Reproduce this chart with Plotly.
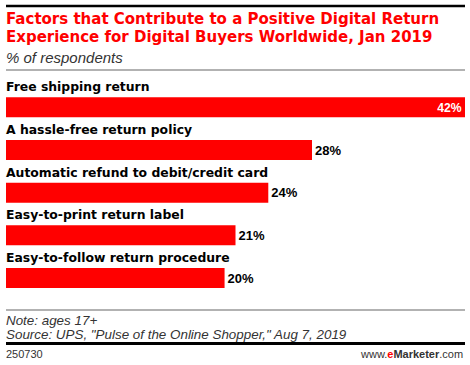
import plotly.graph_objects as go

categories = ["Free shipping return", "A hassle-free return policy",
              "Automatic refund to debit/credit card", "Easy-to-print return label",
              "Easy-to-follow return procedure"]
values = [42, 28, 24, 21, 20]
value_labels = ["42%", "28%", "24%", "21%", "20%"]

W, H = 470, 365
PLOT_TOP, PLOT_BOTTOM = 86, 308
PLOT_LEFT, PLOT_RIGHT = 6, 465


def py(pixel):
    return 1 - pixel / H


def px(pixel):
    return pixel / W


RED = "#ff0000"
FONT = "Liberation Sans, Arial, sans-serif"
BFONT = "DejaVu Sans, Verdana, sans-serif"

positions = ["inside" if v == max(values) else "outside" for v in values]

fig = go.Figure(go.Bar(
    x=values, y=categories, orientation="h",
    marker=dict(color=RED, line=dict(width=0)),
    text=value_labels, textposition=positions,
    insidetextanchor="end",
    insidetextfont=dict(color="white", size=13, family=FONT, weight="bold"),
    outsidetextfont=dict(color="black", size=13, family=FONT, weight="bold"),
    textangle=0, cliponaxis=False, width=0.47,
))

annotations = []
for c in categories:
    annotations.append(dict(x=0, y=c, xref="x", yref="y", text="<b>" + c + "</b>", showarrow=False,
                            xanchor="left", yanchor="middle", yshift=20.5, xshift=-2,
                            font=dict(size=12.4, color="black", family=BFONT)))


def note(pixel_y, text, size, family, color="#333333", right=False):
    return dict(x=px(PLOT_RIGHT) if right else px(PLOT_LEFT), y=py(pixel_y), xref="paper", yref="paper",
                xshift=0 if right else -2, showarrow=False,
                xanchor="right" if right else "left", yanchor="middle",
                text=text, font=dict(size=size, color=color, family=family))


annotations += [
    note(19, "<b>Factors that Contribute to a Positive Digital Return</b>", 15, BFONT, RED),
    note(37, "<b>Experience for Digital Buyers Worldwide, Jan 2019</b>", 15, BFONT, RED),
    note(57, "<i>% of respondents</i>", 15, FONT),
    note(320, "<i>Note: ages 17+</i>", 13.4, FONT),
    note(334, "<i>Source: UPS, \"Pulse of the Online Shopper,\" Aug 7, 2019</i>", 13.4, FONT),
    note(354, "250730", 11, FONT),
    note(354, "www.<b><span style='color:#ff0000'>e</span>Marketer</b>.com", 11, FONT, right=True),
]

shapes = []
for pixel, color, width in [(6, "black", 2.5), (70, "#999999", 1.5),
                            (310, "#999999", 1.5), (343.5, "black", 3)]:
    shapes.append(dict(type="line", xref="paper", yref="paper",
                       x0=px(PLOT_LEFT), x1=px(PLOT_RIGHT), y0=py(pixel), y1=py(pixel),
                       line=dict(color=color, width=width)))

fig.update_layout(
    width=W, height=H,
    margin=dict(l=0, r=0, t=0, b=0, pad=0),
    paper_bgcolor="white", plot_bgcolor="white",
    showlegend=False,
    xaxis=dict(range=[0, 42], visible=False, fixedrange=True,
               domain=[px(PLOT_LEFT), px(PLOT_RIGHT)]),
    yaxis=dict(categoryorder="array", categoryarray=categories, autorange="reversed",
               visible=False, fixedrange=True,
               domain=[py(PLOT_BOTTOM), py(PLOT_TOP)]),
    annotations=annotations, shapes=shapes,
)

fig.write_html("out.html", config=dict(displayModeBar=False),
               post_script="document.body.style.margin='0';document.body.style.overflow='hidden';")
